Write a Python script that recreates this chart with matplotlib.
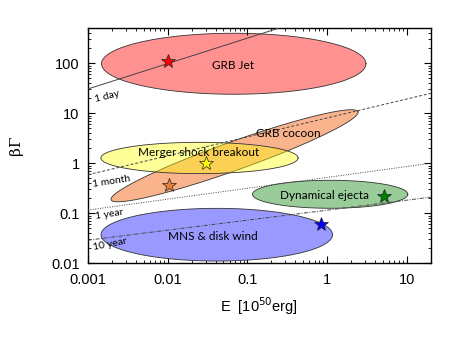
import numpy as np
import matplotlib
matplotlib.use("Agg")
import matplotlib.pyplot as plt

plt.rcParams['font.family'] = ['Liberation Sans', 'DejaVu Sans']

# ellipses in log10 space: centre (logE, logBG), major vector, minor vector
names = ["GRB Jet", "GRB cocoon", "Merger shock breakout", "Dynamical ejecta", "MNS & disk wind"]
centres = [(-1.17, 1.99), (-1.16, 0.15), (-1.60, 0.106), (0.04, -0.62), (-1.383, -1.428)]
major = [(1.66, 0.0), (1.55, 0.88), (1.238, 0.0), (0.975, 0.0), (1.453, 0.0)]
minor = [(0.0, 0.61), (-0.06, 0.27), (0.0, 0.313), (0.0, 0.28), (0.0, 0.527)]
fills = ["#ff9191", "#f9b48e", "#ffff00", "#99cc99", "#9999ff"]
alphas = [1.0, 1.0, 0.4, 1.0, 1.0]

# label positions
label_E = [0.0655, 0.33, 0.0247, 0.94, 0.0373]
label_BG = [92, 3.85, 1.63, 0.229, 0.034]

# stars
star_E = [0.01, 0.0105, 0.03, 5.2, 0.84]
star_BG = [110, 0.36, 1.0, 0.225, 0.061]
star_col = ["red", "#e8803c", "yellow", "green", "blue"]

# deceleration-time lines
t_names = ["1 day", "1 month", "1 year", "10 year"]
t_E = [[0.001, 0.245], [0.001, 20], [0.001, 20], [0.001, 20]]
t_BG = [[30.6, 500], [0.59, 25], [0.116, 1.0], [0.029, 0.21]]
t_style = ["-", (0, (3, 2)), (0, (1, 1.5)), (0, (4, 1.5, 1, 1.5))]
t_lab_E = [0.00118, 0.00112, 0.00122, 0.00112]
t_lab_BG = [22, 0.43, 0.097, 0.024]
t_rot = [14, 9, 9, 11]

fig = plt.figure(figsize=(4.63, 3.48), dpi=100)
ax = fig.add_axes([0.190, 0.2434, 0.740, 0.6753])
ax.set_xscale('log')
ax.set_yscale('log')
ax.set_xlim(0.001, 20)
ax.set_ylim(0.01, 500)

t = np.linspace(0, 2 * np.pi, 300)
for i in range(len(names)):
    cx, cy = centres[i]
    lx = cx + major[i][0] * np.cos(t) + minor[i][0] * np.sin(t)
    ly = cy + major[i][1] * np.cos(t) + minor[i][1] * np.sin(t)
    ax.fill(10 ** lx, 10 ** ly, facecolor=fills[i], alpha=alphas[i], edgecolor='none', zorder=1 + i)
    ax.plot(10 ** lx, 10 ** ly, color='#333333', lw=0.6, zorder=1 + i)

for i in range(len(t_names)):
    ax.plot(t_E[i], t_BG[i], color='#444444', lw=0.7, linestyle=t_style[i], zorder=8)
    ax.text(t_lab_E[i], t_lab_BG[i], t_names[i], fontsize=7.5, family='Lato',
            rotation=t_rot[i], ha='left', va='center', zorder=9)

for i in range(len(names)):
    ax.text(label_E[i], label_BG[i], names[i], fontsize=8.5, family='Lato',
            ha='center', va='center', zorder=9)

for i in range(len(star_E)):
    ax.plot(star_E[i], star_BG[i], marker='*', markersize=10, color=star_col[i],
            markeredgecolor='#222222', markeredgewidth=0.5, zorder=10)

ax.tick_params(which='both', direction='in', top=True, right=True, labelsize=10.5)
ax.tick_params(which='major', length=5)
ax.tick_params(which='minor', length=2.5)
ax.tick_params(axis='x', pad=7)
ax.tick_params(axis='y', pad=6)
ax.set_xticks([0.001, 0.01, 0.1, 1, 10])
ax.set_xticklabels(["0.001", "0.01", "0.1", "1", "10"])
ax.set_yticks([0.01, 0.1, 1, 10, 100])
ax.set_yticklabels(["0.01", "0.1", "1", "10", "100"])
for s in ax.spines.values():
    s.set_linewidth(1.0)

ax.set_xlabel(r"E  [10$^{50}$erg]", fontsize=10.5, labelpad=6)
ax.set_ylabel("βΓ", fontsize=11, family='DejaVu Serif', labelpad=20)

fig.savefig("out.png", dpi=100)
